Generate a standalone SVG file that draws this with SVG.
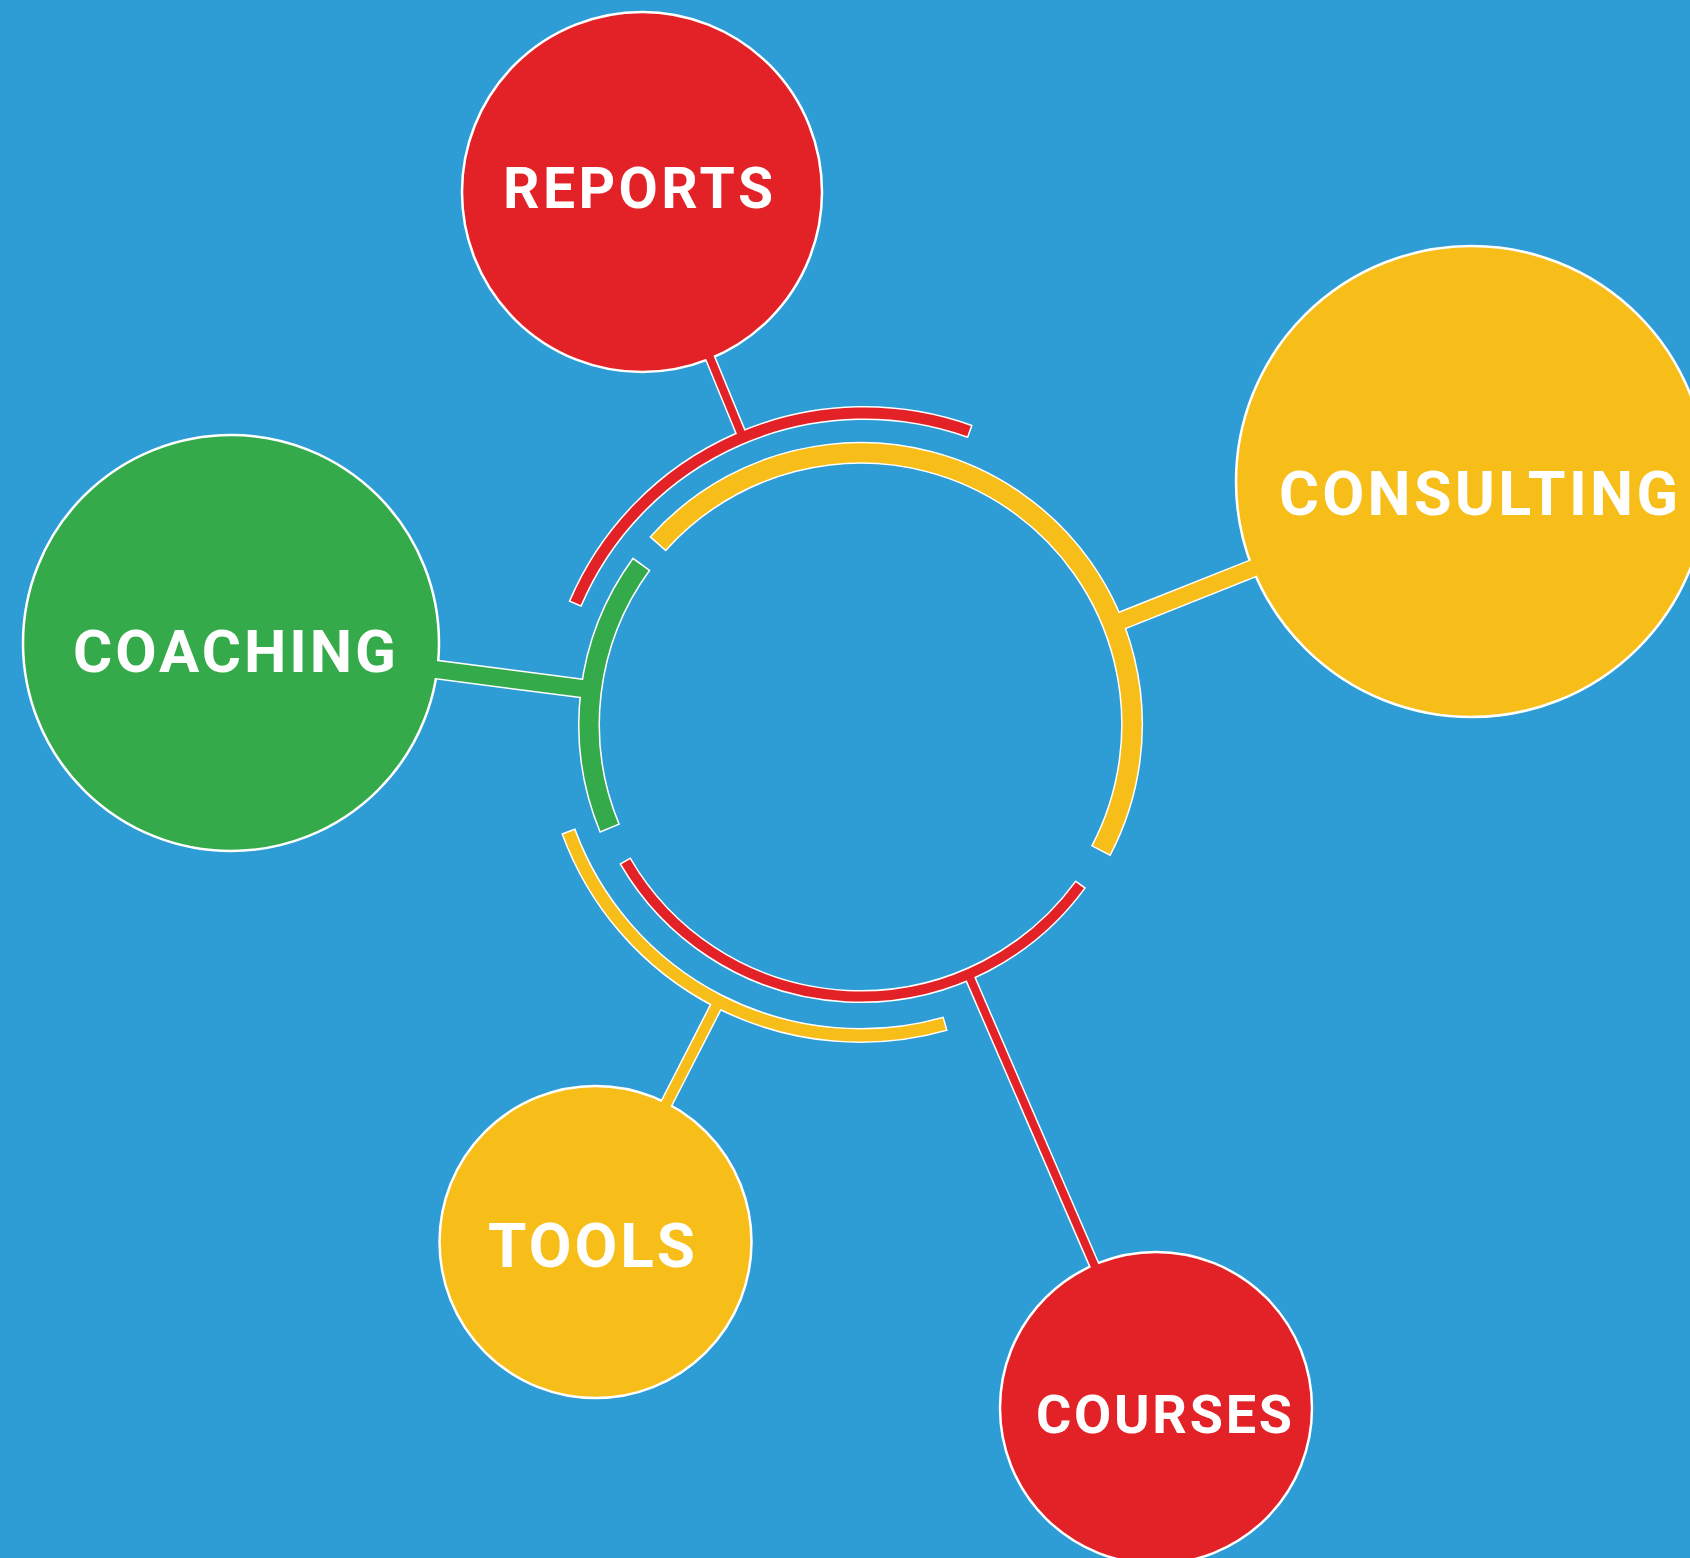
<svg xmlns="http://www.w3.org/2000/svg" width="1690" height="1558" viewBox="0 0 1690 1558">
<style>
.bg{fill:#2F9DD5}
.node circle{stroke:#fff;stroke-width:2.5}
.red{fill:#E22227}
.yellow{fill:#F7BD19}
.green{fill:#35AA4A}
.lbl{font-family:Roboto,"Liberation Sans",sans-serif;font-weight:700;fill:#fff}
.u path{fill:none;stroke:#fff;stroke-linecap:butt}
.c path{fill:none;stroke-linecap:butt}
.sr{stroke:#E22227}
.sy{stroke:#F7BD19}
.sg{stroke:#35AA4A}
</style>
<rect class="bg" x="0" y="0" width="1690" height="1558"/>

<g id="node-reports" class="node">
<circle class="red" cx="642" cy="192" r="180"/>
<text class="lbl" x="503" y="208" font-size="57" textLength="270" lengthAdjust="spacing">REPORTS</text>
</g>
<g id="node-consulting" class="node">
<circle class="yellow" cx="1471.5" cy="481.5" r="235.5"/>
<text class="lbl" x="1279" y="515" font-size="61" textLength="399" lengthAdjust="spacing">CONSULTING</text>
</g>
<g id="node-coaching" class="node">
<circle class="green" cx="231" cy="643" r="208"/>
<text class="lbl" x="73" y="672" font-size="60" textLength="323" lengthAdjust="spacing">COACHING</text>
</g>
<g id="node-tools" class="node">
<circle class="yellow" cx="595.5" cy="1242" r="156"/>
<text class="lbl" x="488" y="1267" font-size="62" textLength="207" lengthAdjust="spacing">TOOLS</text>
</g>
<g id="node-courses" class="node">
<circle class="red" cx="1156" cy="1408" r="156"/>
<text class="lbl" x="1036" y="1433" font-size="54" textLength="256" lengthAdjust="spacing">COURSES</text>
</g>

<g id="connectors">
<g class="u">
<path d="M657.5,544.2 A271.5,271.5 0 0 1 1100.7,851.1" stroke-width="22"/>
<path d="M609.9,828.8 A271.5,271.5 0 0 1 641.7,563.8" stroke-width="22"/>
<path d="M1080.8,884.0 A272,272 0 0 1 624.9,860.5" stroke-width="13"/>
<path d="M945.7,1023.6 A311,311 0 0 1 568.3,830.9" stroke-width="15"/>
<path d="M575.0,604.3 A314,314 0 0 1 970.4,431.6" stroke-width="14"/>
<path d="M742.9,437.7 L710.4,358.5" stroke-width="11"/>
<path d="M1112.8,624.2 L1252.7,568.5" stroke-width="19"/>
<path d="M591.2,689.6 L437.3,669.7" stroke-width="20"/>
<path d="M718.7,1001.3 L666.6,1103.1" stroke-width="13"/>
<path d="M968.5,974.2 L1094.1,1264.8" stroke-width="11"/>
</g>
<g class="c">
<path class="sy" d="M658.5,543.1 A271.5,271.5 0 0 1 1101.4,849.8" stroke-width="19"/>
<path class="sg" d="M609.3,827.4 A271.5,271.5 0 0 1 640.8,565.0" stroke-width="19"/>
<path class="sr" d="M1079.9,885.3 A272,272 0 0 1 625.7,861.8" stroke-width="10"/>
<path class="sy" d="M944.3,1024.0 A311,311 0 0 1 568.8,832.3" stroke-width="12"/>
<path class="sr" d="M575.6,602.9 A314,314 0 0 1 969.0,431.1" stroke-width="11"/>
<path class="sr" d="M742.9,437.7 L707.9,352.6" stroke-width="8"/>
<path class="sy" d="M1112.8,624.2 L1258.2,566.3" stroke-width="16"/>
<path class="sg" d="M591.2,689.6 L431.1,668.9" stroke-width="17"/>
<path class="sy" d="M718.7,1001.3 L664.1,1108.1" stroke-width="10"/>
<path class="sr" d="M968.5,974.2 L1096.7,1270.6" stroke-width="8"/>
</g>
</g>
</svg>
